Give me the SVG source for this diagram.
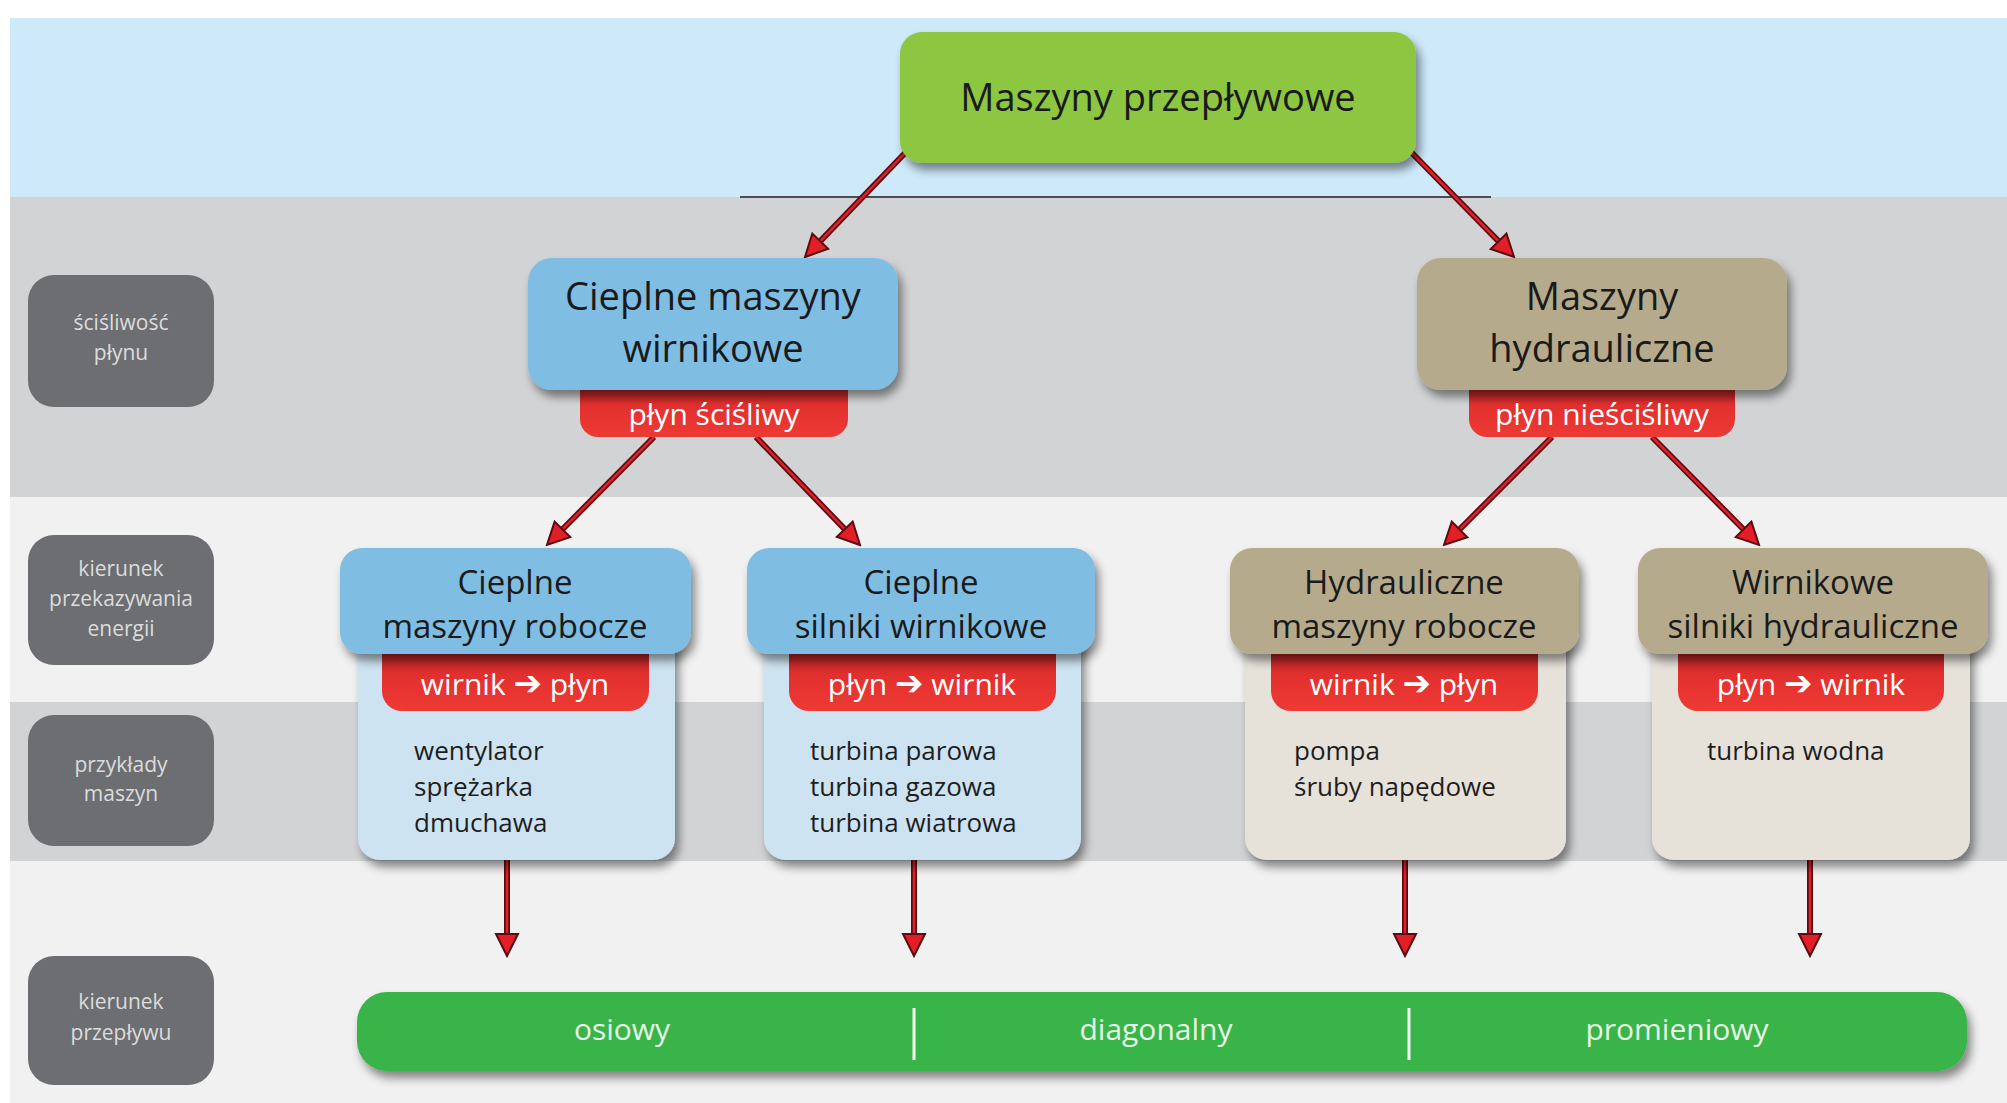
<svg xmlns="http://www.w3.org/2000/svg" width="2007" height="1103" viewBox="0 0 2007 1103">
<style>
text{font-family:"Open Sans","Noto Sans","DejaVu Sans",sans-serif;}
.h1{font-size:38px;fill:#1a1a1a;text-anchor:middle;}
.h2{font-size:38px;fill:#1a1a1a;text-anchor:middle;}
.h3{font-size:33px;fill:#1a1a1a;text-anchor:middle;}
.tab{font-size:30px;fill:#ffffff;text-anchor:middle;}
.arr{font-family:"DejaVu Sans",sans-serif;font-weight:bold;font-size:34px;}
.ex{font-size:26px;fill:#1e1e1e;}
.lbl{font-size:21px;fill:#dcdcdc;text-anchor:middle;}
.flow{font-size:30px;fill:#e6f5e6;text-anchor:middle;}
.eo{stroke:#5a0c10;stroke-width:6;fill:none;}
.ei{stroke:#e0202a;stroke-width:2.5;fill:none;marker-end:url(#ah);}
.lb{fill:#6d6e71;}
.bhb{fill:#7fbde3;}
.bbb{fill:#cde3f2;}
.thb{fill:#b6aa8c;}
.tbb{fill:#e6e2da;}
</style>
<defs>
<filter id="sh" x="-20%" y="-20%" width="140%" height="150%">
<feDropShadow dx="4" dy="7" stdDeviation="5" flood-color="#000" flood-opacity="0.45"/>
</filter>
<linearGradient id="rg" x1="0" y1="0" x2="0" y2="1">
<stop offset="0" stop-color="#9e1b1f"/>
<stop offset="0.45" stop-color="#e2302f"/>
<stop offset="1" stop-color="#ee3a34"/>
</linearGradient>
<marker id="ah" markerUnits="userSpaceOnUse" viewBox="-2 -2 26 26" markerWidth="26" markerHeight="26" refX="10" refY="11" orient="auto">
<path d="M0,0 L22,11 L0,22 Z" fill="#e31e26" stroke="#5a0c10" stroke-width="2" stroke-linejoin="miter"/>
</marker>
</defs>

<!-- background bands -->
<rect x="0" y="0" width="2007" height="1103" fill="#ffffff"/>
<rect x="10" y="18" width="1997" height="179" fill="#cde9fa"/>
<rect x="10" y="197" width="1997" height="300" fill="#d1d3d4"/>
<rect x="10" y="497" width="1997" height="205" fill="#f1f1f1"/>
<rect x="10" y="702" width="1997" height="159" fill="#d1d3d4"/>
<rect x="10" y="861" width="1997" height="242" fill="#f1f1f1"/>
<line x1="740" y1="197" x2="1491" y2="197" stroke="#4d4d4f" stroke-width="2"/>

<!-- row labels -->
<g id="label-scisliwosc">
<rect class="lb" x="28" y="275" width="186" height="132" rx="26"/>
<text class="lbl" x="121" y="330">ściśliwość</text>
<text class="lbl" x="121" y="360">płynu</text>
</g>
<g id="label-kierunek-energii">
<rect class="lb" x="28" y="535" width="186" height="130" rx="26"/>
<text class="lbl" x="121" y="576">kierunek</text>
<text class="lbl" x="121" y="606">przekazywania</text>
<text class="lbl" x="121" y="636">energii</text>
</g>
<g id="label-przyklady">
<rect class="lb" x="28" y="715" width="186" height="131" rx="26"/>
<text class="lbl" x="121" y="772">przykłady</text>
<text class="lbl" x="121" y="801">maszyn</text>
</g>
<g id="label-kierunek-przeplywu">
<rect class="lb" x="28" y="956" width="186" height="129" rx="26"/>
<text class="lbl" x="121" y="1009">kierunek</text>
<text class="lbl" x="121" y="1040">przepływu</text>
</g>

<!-- connectors -->
<g id="connectors">
<line class="eo" x1="906" y1="152" x2="813.3" y2="248.4"/><line class="ei" x1="906" y1="152" x2="813.3" y2="248.4"/>
<line class="eo" x1="1411" y1="152" x2="1505.6" y2="248.4"/><line class="ei" x1="1411" y1="152" x2="1505.6" y2="248.4"/>
<line class="eo" x1="654" y1="437" x2="555.4" y2="536.5"/><line class="ei" x1="654" y1="437" x2="555.4" y2="536.5"/>
<line class="eo" x1="756" y1="437" x2="851.7" y2="536.4"/><line class="ei" x1="756" y1="437" x2="851.7" y2="536.4"/>
<line class="eo" x1="1552" y1="437" x2="1452.5" y2="536.5"/><line class="ei" x1="1552" y1="437" x2="1452.5" y2="536.5"/>
<line class="eo" x1="1652" y1="437" x2="1750.6" y2="536.5"/><line class="ei" x1="1652" y1="437" x2="1750.6" y2="536.5"/>
<line class="eo" x1="507" y1="860" x2="507" y2="944"/><line class="ei" x1="507" y1="860" x2="507" y2="944"/>
<line class="eo" x1="914" y1="860" x2="914" y2="944"/><line class="ei" x1="914" y1="860" x2="914" y2="944"/>
<line class="eo" x1="1405" y1="860" x2="1405" y2="944"/><line class="ei" x1="1405" y1="860" x2="1405" y2="944"/>
<line class="eo" x1="1810" y1="860" x2="1810" y2="944"/><line class="ei" x1="1810" y1="860" x2="1810" y2="944"/>
</g>

<!-- top node -->
<g id="maszyny-przeplywowe">
<rect x="900" y="32" width="516" height="131" rx="22" fill="#8dc63f" filter="url(#sh)"/>
<text class="h1" x="1158" y="111">Maszyny przepływowe</text>
</g>

<!-- level 2 -->
<g id="cieplne-maszyny-wirnikowe">
<path d="M580,380 H848 V419 A18,18 0 0 1 830,437 H598 A18,18 0 0 1 580,419 Z" fill="url(#rg)"/>
<rect class="bhb" x="528" y="258" width="370" height="132" rx="24" filter="url(#sh)"/>
<text class="h2" x="713" y="310">Cieplne maszyny</text>
<text class="h2" x="713" y="362">wirnikowe</text>
<text class="tab" x="714" y="425">płyn ściśliwy</text>
</g>
<g id="maszyny-hydrauliczne">
<path d="M1469,380 H1735 V419 A18,18 0 0 1 1717,437 H1487 A18,18 0 0 1 1469,419 Z" fill="url(#rg)"/>
<rect class="thb" x="1417" y="258" width="370" height="132" rx="24" filter="url(#sh)"/>
<text class="h2" x="1602" y="310">Maszyny</text>
<text class="h2" x="1602" y="362">hydrauliczne</text>
<text class="tab" x="1602" y="425">płyn nieściśliwy</text>
</g>

<!-- level 3 -->
<g id="cieplne-maszyny-robocze">
<path class="bbb" d="M358,630 H675 V838 A22,22 0 0 1 653,860 H380 A22,22 0 0 1 358,838 Z" filter="url(#sh)"/>
<path d="M382,645 H649 V691 A20,20 0 0 1 629,711 H402 A20,20 0 0 1 382,691 Z" fill="url(#rg)"/>
<rect class="bhb" x="340" y="548" width="351" height="106" rx="22" filter="url(#sh)"/>
<text class="h3" x="515" y="594">Cieplne</text>
<text class="h3" x="515" y="638">maszyny robocze</text>
<text class="tab" x="515" y="695">wirnik <tspan class="arr">➔</tspan> płyn</text>
<text class="ex" x="414" y="760">wentylator</text>
<text class="ex" x="414" y="796">sprężarka</text>
<text class="ex" x="414" y="832">dmuchawa</text>
</g>
<g id="cieplne-silniki-wirnikowe">
<path class="bbb" d="M764,630 H1081 V838 A22,22 0 0 1 1059,860 H786 A22,22 0 0 1 764,838 Z" filter="url(#sh)"/>
<path d="M789,645 H1056 V691 A20,20 0 0 1 1036,711 H809 A20,20 0 0 1 789,691 Z" fill="url(#rg)"/>
<rect class="bhb" x="747" y="548" width="348" height="106" rx="22" filter="url(#sh)"/>
<text class="h3" x="921" y="594">Cieplne</text>
<text class="h3" x="921" y="638">silniki wirnikowe</text>
<text class="tab" x="922" y="695">płyn <tspan class="arr">➔</tspan> wirnik</text>
<text class="ex" x="810" y="760">turbina parowa</text>
<text class="ex" x="810" y="796">turbina gazowa</text>
<text class="ex" x="810" y="832">turbina wiatrowa</text>
</g>
<g id="hydrauliczne-maszyny-robocze">
<path class="tbb" d="M1245,630 H1566 V838 A22,22 0 0 1 1544,860 H1267 A22,22 0 0 1 1245,838 Z" filter="url(#sh)"/>
<path d="M1271,645 H1538 V691 A20,20 0 0 1 1518,711 H1291 A20,20 0 0 1 1271,691 Z" fill="url(#rg)"/>
<rect class="thb" x="1230" y="548" width="349" height="106" rx="22" filter="url(#sh)"/>
<text class="h3" x="1404" y="594">Hydrauliczne</text>
<text class="h3" x="1404" y="638">maszyny robocze</text>
<text class="tab" x="1404" y="695">wirnik <tspan class="arr">➔</tspan> płyn</text>
<text class="ex" x="1294" y="760">pompa</text>
<text class="ex" x="1294" y="796">śruby napędowe</text>
</g>
<g id="wirnikowe-silniki-hydrauliczne">
<path class="tbb" d="M1652,630 H1970 V838 A22,22 0 0 1 1948,860 H1674 A22,22 0 0 1 1652,838 Z" filter="url(#sh)"/>
<path d="M1678,645 H1944 V691 A20,20 0 0 1 1924,711 H1698 A20,20 0 0 1 1678,691 Z" fill="url(#rg)"/>
<rect class="thb" x="1638" y="548" width="350" height="106" rx="22" filter="url(#sh)"/>
<text class="h3" x="1813" y="594">Wirnikowe</text>
<text class="h3" x="1813" y="638">silniki hydrauliczne</text>
<text class="tab" x="1811" y="695">płyn <tspan class="arr">➔</tspan> wirnik</text>
<text class="ex" x="1707" y="760">turbina wodna</text>
</g>

<!-- flow direction bar -->
<g id="kierunek-przeplywu-bar">
<rect x="357" y="992" width="1610" height="79" rx="30" fill="#38b449" filter="url(#sh)"/>
<line x1="914" y1="1008" x2="914" y2="1060" stroke="#f2fbf2" stroke-width="3"/>
<line x1="1409" y1="1008" x2="1409" y2="1060" stroke="#f2fbf2" stroke-width="3"/>
<text class="flow" x="622" y="1040">osiowy</text>
<text class="flow" x="1156" y="1040">diagonalny</text>
<text class="flow" x="1677" y="1040">promieniowy</text>
</g>
</svg>
